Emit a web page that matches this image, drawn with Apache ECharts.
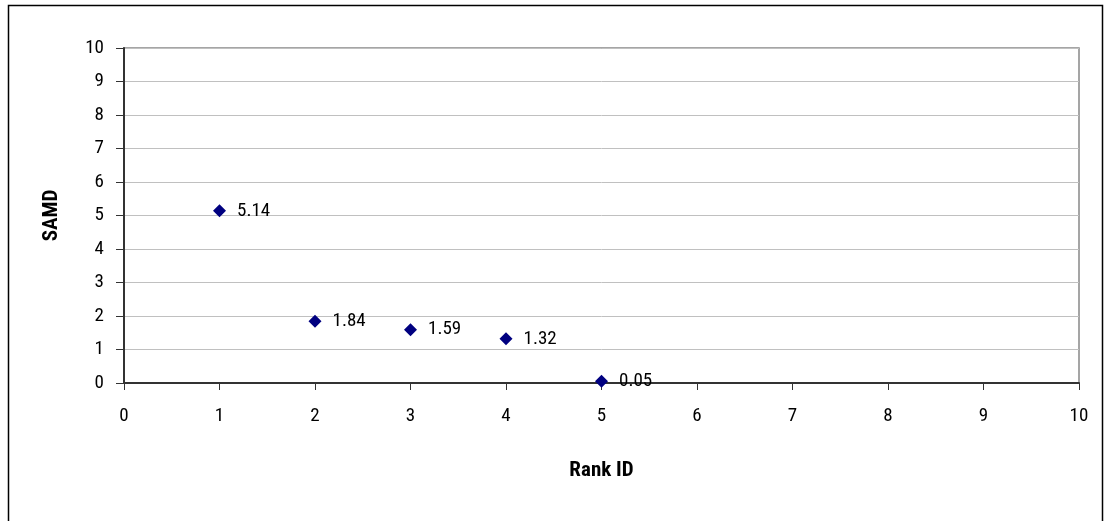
<!DOCTYPE html>
<html><head><meta charset="utf-8">
<script src="https://cdn.jsdelivr.net/npm/echarts@6/dist/echarts.min.js"></script>
<style>html,body{margin:0;padding:0;background:#fff}#c{width:1105px;height:521px}</style>
</head><body><div id="c"></div>
<script>
const rankIds = [1, 2, 3, 4, 5];
const samdValues = [5.14, 1.84, 1.59, 1.32, 0.05];
const xTicks = [0,1,2,3,4,5,6,7,8,9,10];
const yTicks = [0,1,2,3,4,5,6,7,8,9,10];
const FONT = '"Roboto Condensed","Liberation Sans",Arial,sans-serif';
const chart = echarts.init(document.getElementById('c'), null, {renderer:'canvas'});
chart.setOption({
  animation:false,
  backgroundColor:'#fff',
  graphic:[{type:'rect',shape:{x:8.5,y:5.5,width:1094,height:530},style:{fill:'none',stroke:'#000',lineWidth:1.5},silent:true}],
  grid:{left:124,top:48,right:26,bottom:138,show:true,borderColor:'#888',borderWidth:1.5,backgroundColor:'transparent'},
  xAxis:{type:'value',min:xTicks[0],max:xTicks[xTicks.length-1],interval:1,
    name:'Rank ID',nameLocation:'middle',nameGap:77,
    nameTextStyle:{fontFamily:FONT,fontSize:21,fontWeight:'bold',color:'#000'},
    axisLine:{show:true,lineStyle:{color:'#333',width:2}},
    axisTick:{show:true,length:7,lineStyle:{color:'#333'}},
    axisLabel:{fontFamily:FONT,fontSize:19,color:'#000',margin:24},
    splitLine:{show:false}},
  yAxis:{type:'value',min:yTicks[0],max:yTicks[yTicks.length-1],interval:1,
    name:'SAMD',nameLocation:'middle',nameGap:62,nameRotate:90,
    nameTextStyle:{fontFamily:FONT,fontSize:21,fontWeight:'bold',color:'#000'},
    axisLine:{show:true,lineStyle:{color:'#333',width:2}},
    axisTick:{show:true,inside:false,length:8,lineStyle:{color:'#333'}},
    axisLabel:{fontFamily:FONT,fontSize:19,color:'#000',margin:20},
    splitLine:{show:true,lineStyle:{color:'#c0c0c0',width:1}}},
  series:[{type:'scatter',symbol:'diamond',symbolSize:13,
    itemStyle:{color:'#000080',opacity:1},
    emphasis:{disabled:true},
    data:rankIds.map((x,i)=>[x,samdValues[i]]),
    label:{show:true,position:'right',distance:11,fontFamily:FONT,fontSize:19,color:'#000',opacity:1,
      formatter:p=>p.value[1].toFixed(2)}}]
});
</script></body></html>
